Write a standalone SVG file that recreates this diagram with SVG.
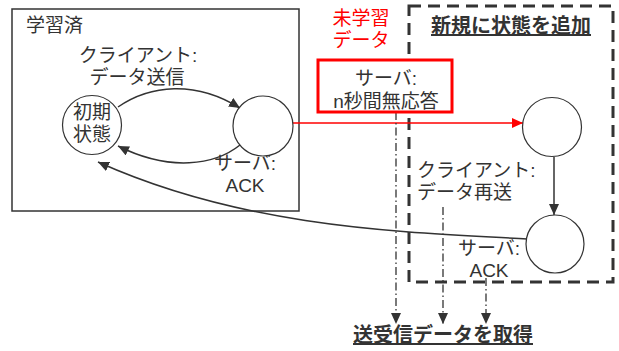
<svg xmlns="http://www.w3.org/2000/svg" width="619" height="351" viewBox="0 0 619 351">
<style>
text{font-family:"Liberation Sans","Noto Sans CJK JP",sans-serif;font-size:19px;fill:#333}
.m{text-anchor:middle}
.b{font-weight:bold;text-decoration:underline;font-size:20px}
.red{fill:#ff0000}
.st{fill:#fff;stroke:#333;stroke-width:1.2}
.ln{fill:none;stroke:#333;stroke-width:1.5}
.dd{fill:none;stroke:#333;stroke-width:1.3;stroke-dasharray:8 3 1.5 3}
</style>
<defs>
<marker id="ah" markerUnits="userSpaceOnUse" markerWidth="12" markerHeight="10" refX="11" refY="5" orient="auto"><path d="M0,0 L11,5 L0,10 Z" fill="#333"/></marker>
<marker id="ahr" markerUnits="userSpaceOnUse" markerWidth="12" markerHeight="10" refX="11" refY="5" orient="auto"><path d="M0,0 L11,5 L0,10 Z" fill="#ff0000"/></marker>
</defs>
<rect x="0" y="0" width="619" height="351" fill="#fff"/>
<g id="learned">
<rect x="12" y="9" width="287" height="202" fill="none" stroke="#333" stroke-width="1.5"/>
<text x="26" y="32">学習済</text>
</g>
<g id="newstate-area">
<rect x="409" y="6" width="204" height="276" fill="none" stroke="#333" stroke-width="3" stroke-dasharray="12 7"/>
<text class="m b" x="511" y="33">新規に状態を追加</text>
</g>
<g id="unlearned-label"><text class="m red" x="361" y="25">未学習</text><text class="m red" x="361" y="47">データ</text></g>
<g id="connectors">
<path class="ln" d="M118,107 C150,85 195,80 240,108" marker-end="url(#ah)"/>
<path class="ln" d="M240,145 C215,165 170,172 118,146" marker-end="url(#ah)"/>
<path class="ln" d="M527,239 C400,232 245,228 98,162" marker-end="url(#ah)"/>
<path fill="none" stroke="#ff0000" stroke-width="1.5" d="M293,123 L523,123" marker-end="url(#ahr)"/>
<path class="ln" d="M554,157 L554,215" marker-end="url(#ah)"/>
<path class="dd" d="M396,112 L396,324" marker-end="url(#ah)"/>
<path class="dd" d="M443,207 L443,324" marker-end="url(#ah)"/>
<path class="dd" d="M486,278 L486,324" marker-end="url(#ah)"/>
</g>
<g id="lbl-client-send"><text class="m" x="138" y="62">クライアント:</text><text class="m" x="137" y="84">データ送信</text></g>
<g id="lbl-server-ack1"><text class="m" x="245" y="170">サーバ:</text><text class="m" x="245" y="192">ACK</text></g>
<g id="init"><circle class="st" cx="92" cy="125" r="29.5"/><text class="m" x="92" y="119">初期</text><text class="m" x="92" y="141">状態</text></g>
<g id="s1"><circle class="st" cx="263" cy="126" r="30"/></g>
<g id="noresp"><rect x="318" y="60" width="134" height="52" fill="#fff" stroke="#ff0000" stroke-width="3"/><text class="m" x="386" y="85">サーバ:</text><text class="m" x="386" y="108">n秒間無応答</text></g>
<g id="s2"><circle class="st" cx="552" cy="127" r="29.5"/></g>
<g id="lbl-client-resend"><text x="417" y="177">クライアント:</text><text x="417" y="199">データ再送</text></g>
<g id="s3"><circle class="st" cx="555" cy="244" r="29"/></g>
<g id="lbl-server-ack2"><text class="m" x="489" y="255">サーバ:</text><text class="m" x="489" y="277">ACK</text></g>
<g id="fetch"><text class="m b" x="443" y="342">送受信データを取得</text></g>
</svg>
